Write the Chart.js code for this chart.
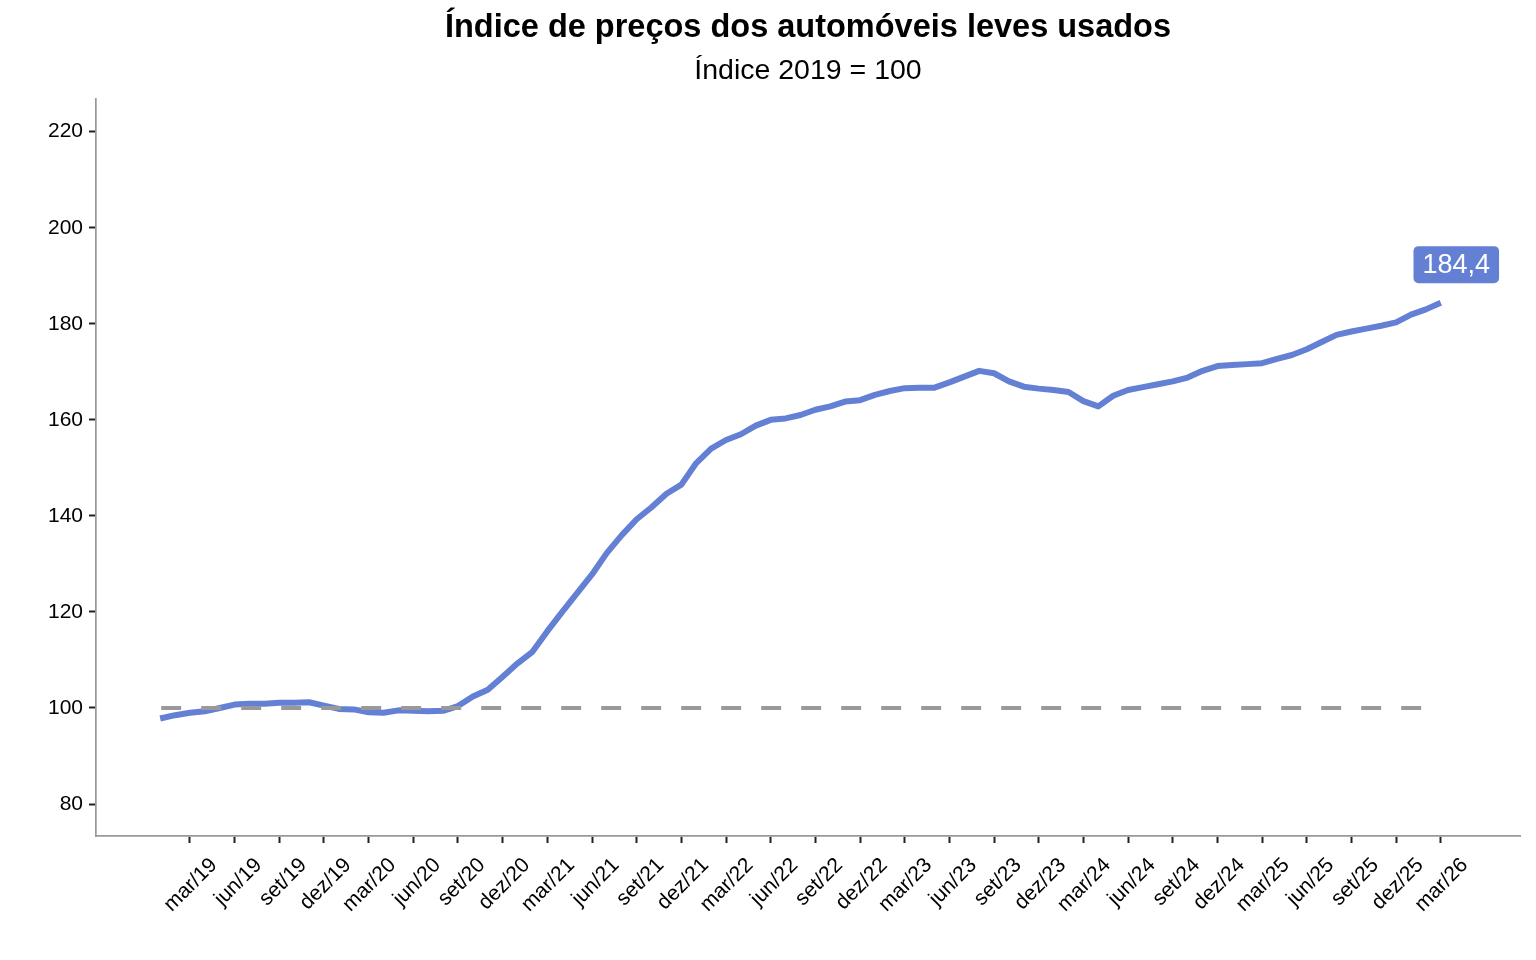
<!DOCTYPE html>
<html>
<head>
<meta charset="utf-8">
<script src="https://cdn.jsdelivr.net/npm/chart.js@4"></script>
<style>
    html, body { margin: 0; padding: 0; background: #fff; }
    #wrap { width: 1536px; height: 960px; }
</style>
</head>
<body>
<div id="wrap"><canvas id="chart"></canvas></div>
<script>
const mesesAbrev = ["jan", "fev", "mar", "abr", "mai", "jun", "jul", "ago", "set", "out", "nov", "dez"]
const anos = ["19", "20", "21", "22", "23", "24", "25", "26"]
const mesesTick = ["mar", "jun", "set", "dez"]

// índice de preços, jan/19 a mar/26
const precos = [
    97.8, 98.5, 99.0, 99.3, 100.0, 100.7, 100.9, 100.9, 101.1, 101.1, 101.2, 100.5,
    99.8, 99.7, 99.1, 99.0, 99.5, 99.4, 99.3, 99.4, 100.4, 102.4, 103.8, 106.5,
    109.3, 111.7, 116.0, 120.0, 123.9, 127.8, 132.3, 136.0, 139.3, 141.8, 144.6, 146.5,
    151.0, 154.0, 155.8, 157.0, 158.8, 160.0, 160.3, 161.0, 162.1, 162.8, 163.8, 164.1,
    165.2, 166.0, 166.6, 166.7, 166.7, 167.8, 169.0, 170.2, 169.7, 168.0, 166.9, 166.5,
    166.2, 165.8, 163.9, 162.8, 165.0, 166.2, 166.8, 167.4, 168.0, 168.8, 170.2, 171.2,
    171.4, 171.6, 171.8, 172.7, 173.5, 174.7, 176.2, 177.7, 178.4, 179.0, 179.6, 180.3,
    181.9, 183.0, 184.4
]
const base2019 = 100
const yTicks = [80, 100, 120, 140, 160, 180, 200, 220]

const FONT = "'Liberation Sans', Arial, sans-serif"
const AZUL = "#6380D5"

// rótulos mensais
const meses = []
anos.forEach(a => mesesAbrev.forEach(m => meses.push(`${m}/${a}`)))
meses.length = precos.length

const tickIdx = []
meses.forEach((m, i) => { if (mesesTick.includes(m.split("/")[0])) tickIdx.push(i) })

const serie = precos.map((v, i) => ({ x: i, y: v }))
const linhaBase = precos.map((v, i) => ({ x: i, y: base2019 }))

// caixa com o último valor
const etiquetaFinal = {
    id: "etiquetaFinal",
    afterDatasetsDraw(chart) {
        const meta = chart.getDatasetMeta(1)
        const pt = meta.data[meta.data.length - 1]
        const txt = precos[precos.length - 1].toFixed(1).replace(".", ",")
        const ctx = chart.ctx
        ctx.save()
        ctx.font = `27px ${FONT}`
        const w = ctx.measureText(txt).width + 18
        const h = 37
        const cx = pt.x + 15.5
        const cy = pt.y - 38
        ctx.fillStyle = AZUL
        ctx.beginPath()
        ctx.roundRect(cx - w / 2, cy - h / 2, w, h, 5)
        ctx.fill()
        ctx.fillStyle = "#fff"
        ctx.textAlign = "center"
        ctx.textBaseline = "middle"
        ctx.fillText(txt, cx, cy + 1)
        ctx.restore()
    }
}

const eixoComum = {
    grid: { display: true, drawOnChartArea: false, drawTicks: true, tickLength: 7, tickWidth: 2, tickColor: "#222" },
    border: { display: true, color: "#999", width: 1.7 }
}

new Chart(document.getElementById("chart"), {
    type: "line",
    data: {
        datasets: [
            {
                data: linhaBase,
                borderColor: "#999999",
                borderWidth: 4,
                borderDash: [20, 20],
                borderDashOffset: 39,
                pointRadius: 0,
                fill: false
            },
            {
                data: serie,
                borderColor: AZUL,
                borderWidth: 6,
                borderJoinStyle: "round",
                pointRadius: 0,
                tension: 0,
                fill: false
            }
        ]
    },
    options: {
        responsive: true,
        maintainAspectRatio: false,
        animation: false,
        devicePixelRatio: 1,
        layout: { padding: { left: 0, right: 16, top: 0, bottom: 0 } },
        plugins: {
            legend: { display: false },
            tooltip: { enabled: false },
            title: {
                display: true,
                fullSize: false,
                text: "Índice de preços dos automóveis leves usados",
                color: "#000",
                font: { family: FONT, size: 32.5, weight: "bold" },
                padding: { top: 9, bottom: 6 }
            },
            subtitle: {
                display: true,
                fullSize: false,
                text: "Índice 2019 = 100",
                color: "#000",
                font: { family: FONT, size: 28.5 },
                padding: { top: 0, bottom: 10.5 }
            }
        },
        scales: {
            x: {
                type: "linear",
                position: "bottom",
                min: -4.31,
                max: 91.32,
                afterBuildTicks: s => { s.ticks = tickIdx.map(v => ({ value: v })) },
                afterFit: s => { s.height = 124 },
                ticks: {
                    callback: v => meses[v],
                    autoSkip: false,
                    minRotation: 45,
                    maxRotation: 45,
                    labelOffset: 24,
                    padding: 10,
                    color: "#000",
                    font: { family: FONT, size: 21 }
                },
                ...eixoComum
            },
            y: {
                type: "linear",
                min: 73.34,
                max: 226.87,
                afterBuildTicks: s => { s.ticks = yTicks.map(v => ({ value: v })) },
                afterFit: s => { s.width = 96 },
                ticks: {
                    padding: 6,
                    color: "#000",
                    font: { family: FONT, size: 21 }
                },
                ...eixoComum
            }
        }
    },
    plugins: [etiquetaFinal]
})
</script>
</body>
</html>
